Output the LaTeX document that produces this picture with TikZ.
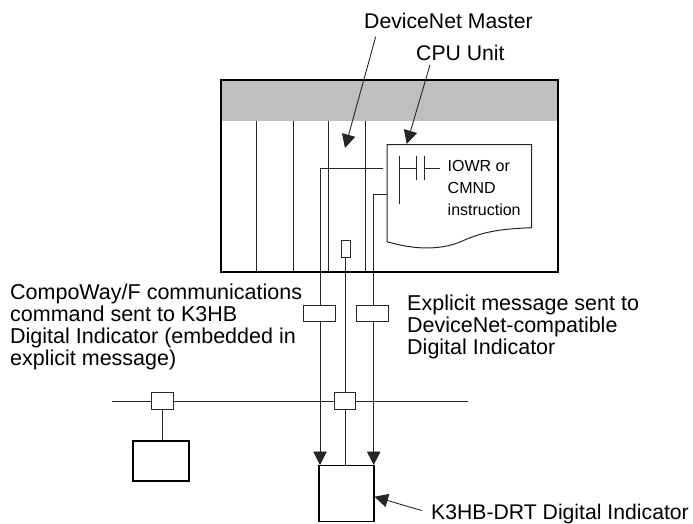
\documentclass[tikz,border=0pt]{standalone}
\usepackage{fontspec}
\setmainfont{Liberation Sans}
\usetikzlibrary{arrows.meta}
\tikzset{
  thin line/.style={draw=black!85,line width=0.9pt},
  thick line/.style={draw=black,line width=1.6pt},
  msgbox/.style={thin line,fill=white,line width=1pt,minimum width=32.5pt,minimum height=16pt,inner sep=0pt},
  tapbox/.style={thin line,fill=white,line width=1pt,minimum width=21.5pt,minimum height=16.5pt,inner sep=0pt},
  tip arrow/.style={thin line,-{Triangle[length=13.5pt,width=13.5pt]}},
  label text/.style={font=\fontsize{21.5}{22}\selectfont,align=left,inner sep=0pt,anchor=north west},
  short text/.style={font=\fontsize{21.2}{22}\selectfont,align=left,inner sep=0pt,anchor=north west},
  small text/.style={font=\fontsize{16}{22}\selectfont,align=left,inner sep=0pt,anchor=north west},
}
\begin{document}
\begin{tikzpicture}[x=1pt,y=-1pt]
\useasboundingbox (0,0) rectangle (693,523);
% rack
\fill[black!25] (221,80) rectangle (557.7,120.7);
\draw[thick line] (221,80) rectangle (557.7,272);
\foreach \x in {256.7,293,328.5,365.5} \draw[thin line] (\x,120.7) -- (\x,272);
% cpu program sheet
\draw[thin line,line width=1pt,fill=white] (387,144.7) -- (531.7,144.7) -- (531.7,227.7)
  .. controls (495,229) and (480,233) .. (460,242)
  .. controls (440,250) and (415,250) .. (387,241.7) -- cycle;
\coordinate (cputop) at (406.7,144);
\coordinate (rung) at (382.7,168.7);
\coordinate (rung2) at (387,194);
% ladder
\draw[thin line] (399.7,156) -- (399.7,204);
\draw[thin line] (399.7,168.7) -- (416,168.7);
\draw[thin line] (416,156) -- (416,180);
\draw[thin line] (424,156) -- (424,180);
\draw[thin line] (424,168.7) -- (440,168.7);
\node[small text] (instr) at (447.5,159.9) {IOWR or\\CMND\\instruction};
% small port
\node[thin line,fill=white,line width=1pt,minimum width=8.3pt,minimum height=17pt,inner sep=0pt] (port) at (345.9,248.5) {};
% connectors under boxes
\coordinate (d1) at (320,465);
\coordinate (d3) at (373.7,465);
\draw[tip arrow] (rung) -- (320,168.7) -- (d1);
\draw[tip arrow] (rung2) -- (373.7,194) -- (d3);
% message boxes
\node[msgbox] (m1) at (319.7,313) {};
\node[msgbox] (m2) at (372.5,313) {};
% bus
\coordinate (busL) at (112,401);
\coordinate (busR) at (467.7,401);
\draw[thin line] (busL) -- (busR);
\node[tapbox] (t1) at (162.4,401) {};
\node[tapbox] (t2) at (345,401) {};
% devices
\node[thick line,fill=white,minimum width=56pt,minimum height=40pt,inner sep=0pt] (dev) at (161.2,461) {};
\node[thick line,fill=white,minimum width=55pt,minimum height=56pt,inner sep=0pt,anchor=north] (k3) at (346.2,464.5) {};
\draw[thin line] (t2.north |- port.south) -- (t2.north);
\draw[thin line] (t2.south) -- (k3.north -| t2.south);
\draw[thin line] (t1.south) -- (dev.north -| t1.south);
% labels
\node[label text] (l1) at (10,283.5) {CompoWay/F communications\\command sent to K3HB\\Digital Indicator (embedded in\\explicit message)};
\node[label text] (l2) at (407,294.5) {Explicit message sent to\\DeviceNet-compatible\\Digital Indicator};
\node[short text] (l3) at (431,503.5) {K3HB-DRT Digital Indicator};
\node[short text] (l4) at (364,12.5) {DeviceNet Master};
\node[short text] (l5) at (416,44.6) {CPU Unit};
\coordinate (a1) at (375.7,36.7);
\coordinate (a1t) at (345,148);
\coordinate (a2) at (430,65);
\coordinate (a3) at (421.7,510.5);
\draw[tip arrow] (a1) -- (a1t);
\draw[tip arrow] (a2) -- (cputop);
\draw[tip arrow] (a3) -- (k3.east |- 0,496.7);
\end{tikzpicture}
\end{document}
